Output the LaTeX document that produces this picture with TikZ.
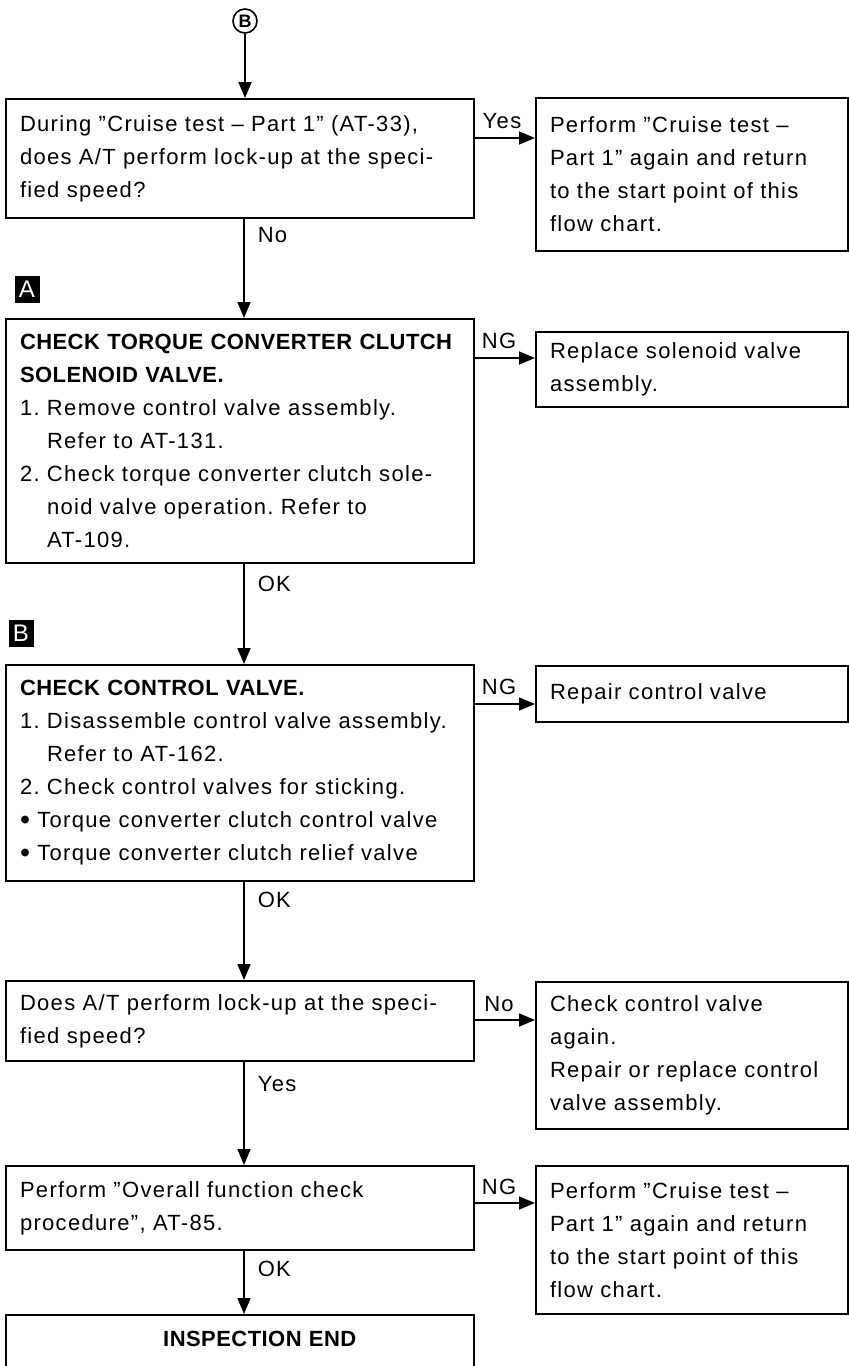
\documentclass[tikz,border=0pt]{standalone}
\usepackage{fontspec}
\setmainfont{Liberation Sans}[LetterSpace=6,BoldFeatures={LetterSpace=2}]
\usetikzlibrary{arrows.meta}
\frenchspacing
\begin{document}
\begin{tikzpicture}[x=0.5pt,y=-0.5pt,every node/.style={font=\fontsize{11}{16.5}\selectfont},
 box/.style={draw,line width=1pt,anchor=north west,align=left,text width=220pt,inner xsep=7pt,inner ysep=0pt},
 side/.style={box,text width=142pt},
 lbl/.style={inner sep=1pt},
 tag/.style={fill=black,text=white,minimum width=12.5pt,minimum height=13.5pt,inner sep=0pt,font=\fontsize{12}{12}\selectfont},
 arr/.style={line width=0.8pt,-{Triangle[length=8pt,width=6.5pt]}}]
\useasboundingbox (0,0) rectangle (849,1366);
\node[draw,circle,line width=0.8pt,minimum size=12pt,inner sep=0pt,font=\bfseries\fontsize{9}{9}\selectfont] (start) at (245,21) {B};
\node[box,minimum height=59.5pt] (q1) at (5,98) {During ”Cruise test – Part 1” (AT-33),\\does A/T perform lock-up at the speci-\\fied speed?};
\node[side,minimum height=76.5pt] (r1) at (535,97) {Perform ”Cruise test –\\Part 1” again and return\\to the start point of this\\flow chart.};
\node[tag] (ta) at (27,289) {A};
\node[box,minimum height=122pt] (c1) at (5,318) {\textbf{CHECK TORQUE CONVERTER CLUTCH}\\\textbf{SOLENOID VALVE.}\\1. Remove control valve assembly.\\\phantom{1. }Refer to AT-131.\\2. Check torque converter clutch sole-\\\phantom{1. }noid valve operation. Refer to\\\phantom{1. }AT-109.};
\node[side,minimum height=37.5pt] (r2) at (535,331) {Replace solenoid valve\\assembly.};
\node[tag] (tb) at (21,633) {B};
\node[box,minimum height=108pt] (c2) at (5,664) {\textbf{CHECK CONTROL VALVE.}\\1. Disassemble control valve assembly.\\\phantom{1. }Refer to AT-162.\\2. Check control valves for sticking.\\\raisebox{-0.9pt}{\scalebox{1.3}{\textbullet}} Torque converter clutch control valve\\\raisebox{-0.9pt}{\scalebox{1.3}{\textbullet}} Torque converter clutch relief valve};
\node[side,minimum height=28pt] (r3) at (535,665) {Repair control valve};
\node[box,minimum height=40pt] (q2) at (5,980) {Does A/T perform lock-up at the speci-\\fied speed?};
\node[side,minimum height=73.5pt] (r4) at (535,981) {Check control valve\\again.\\Repair or replace control\\valve assembly.};
\node[box,minimum height=42pt] (p1) at (5,1165) {Perform ”Overall function check\\procedure”, AT-85.};
\node[side,minimum height=74pt] (r5) at (535,1165) {Perform ”Cruise test –\\Part 1” again and return\\to the start point of this\\flow chart.};
\node[box,align=center,inner ysep=7.75pt,text height=8pt,text depth=30pt] (e1) at (5,1314) {\hspace*{20pt}\textbf{INSPECTION END}};
\draw[arr] (start) -- (start |- q1.north);
\draw[arr] ([xshift=2pt]q1.south) -- node[lbl,pos=0.16,right=5.5pt] {No} ([xshift=2pt]q1.south |- c1.north);
\draw[arr] ([xshift=2pt]c1.south) -- node[lbl,pos=0.2,right=5.5pt] {OK} ([xshift=2pt]c1.south |- c2.north);
\draw[arr] ([xshift=2pt]c2.south) -- node[lbl,pos=0.18,right=5.5pt] {OK} ([xshift=2pt]c2.south |- q2.north);
\draw[arr] ([xshift=2pt]q2.south) -- node[lbl,pos=0.21,right=5.5pt] {Yes} ([xshift=2pt]q2.south |- p1.north);
\draw[arr] ([xshift=2pt]p1.south) -- node[lbl,pos=0.28,right=5.5pt] {OK} ([xshift=2pt]p1.south |- e1.north);
\draw[arr] ([yshift=-20pt]q1.north east) -- node[lbl,pos=0.45,above=3pt] {Yes} ([yshift=-20pt]q1.north east -| r1.west);
\draw[arr] ([yshift=-20pt]c1.north east) -- node[lbl,pos=0.4,above=3pt] {NG} ([yshift=-20pt]c1.north east -| r2.west);
\draw[arr] ([yshift=-20pt]c2.north east) -- node[lbl,pos=0.4,above=3pt] {NG} ([yshift=-20pt]c2.north east -| r3.west);
\draw[arr] ([yshift=-20pt]q2.north east) -- node[lbl,pos=0.4,above=3pt] {No} ([yshift=-20pt]q2.north east -| r4.west);
\draw[arr] ([yshift=-19pt]p1.north east) -- node[lbl,pos=0.4,above=3pt] {NG} ([yshift=-19pt]p1.north east -| r5.west);
\end{tikzpicture}
\end{document}
